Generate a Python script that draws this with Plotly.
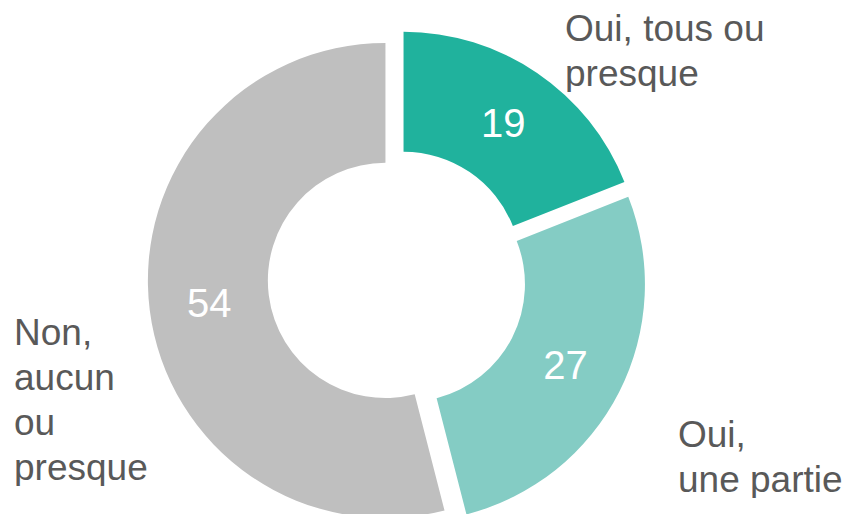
import plotly.graph_objects as go

categories = ["Oui, tous ou presque", "Oui, une partie", "Non, aucun ou presque"]
values = [19, 27, 54]
colors = ["#20B29D", "#84CCC4", "#BFBFBF"]
label_lines = [["Oui, tous ou", "presque"], ["Oui,", "une partie"], ["Non,", "aucun", "ou", "presque"]]

W, H = 850, 558
FONT = "Arial, 'Liberation Sans', sans-serif"

fig = go.Figure(go.Pie(
    labels=categories,
    values=values,
    sort=False,
    direction="clockwise",
    rotation=0,
    hole=0.495,
    pull=[0.049, 0.049, 0.049],
    marker=dict(colors=colors, line=dict(width=0)),
    textinfo="value",
    textposition="inside",
    insidetextorientation="horizontal",
    insidetextfont=dict(color="white", size=40, family=FONT),
    showlegend=False,
    domain=dict(x=[0, 778 / W], y=[1 - 520.2 / H, 1 - 21.8 / H]),
    hoverinfo="label+value",
))

# label block placement: left x, first-line middle y (px), line step (px)
label_pos = [(555, 20), (668, 426), (4, 324)]
LINE_STEP = 45
for lines, (px, py) in zip(label_lines, label_pos):
    for i, line in enumerate(lines):
        fig.add_annotation(
            text=line, xref="paper", yref="paper",
            x=px / W, y=1 - (py + i * LINE_STEP) / H,
            xanchor="left", yanchor="middle", valign="middle",
            height=38,
            align="left", showarrow=False,
            font=dict(size=37, color="#595959", family=FONT),
        )

fig.update_layout(
    width=W, height=H,
    margin=dict(l=0, r=0, t=0, b=0),
    paper_bgcolor="white", plot_bgcolor="white",
)

fig.write_html("out.html")
